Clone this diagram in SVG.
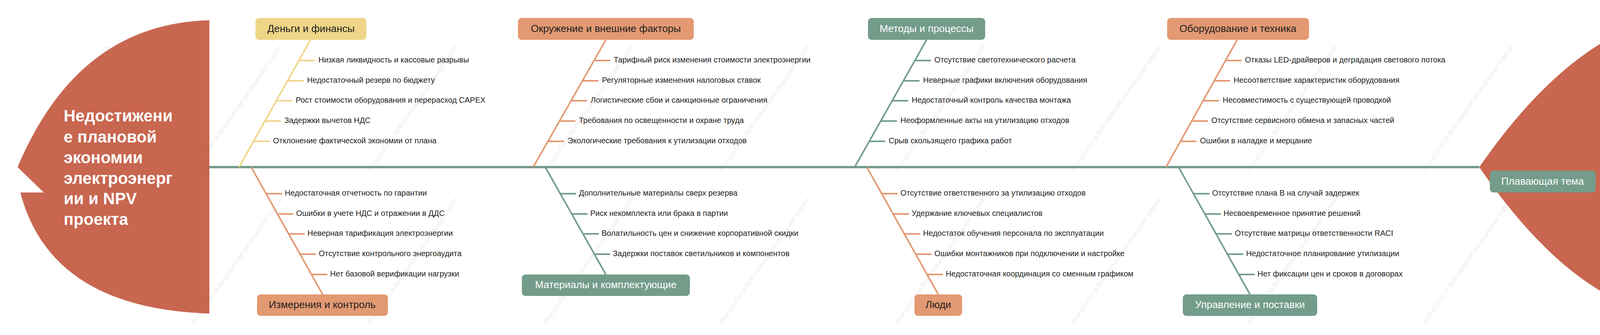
<svg xmlns="http://www.w3.org/2000/svg" width="4276" height="858" viewBox="0 0 4276 858">
<style>
.sub{font-family:"Liberation Sans",Arial,sans-serif;font-size:20px;fill:#222;dominant-baseline:middle}
.cat{font-family:"Liberation Sans",Arial,sans-serif;font-size:26px;text-anchor:middle;dominant-baseline:middle}
.dk{fill:#222}.wt{fill:#fff}
.y{stroke:#EFD587}.o{stroke:#E39972}.g{stroke:#739C8B}
.bone{stroke-width:4;fill:none}
.wm{font-family:"Liberation Sans",Arial,sans-serif;font-size:18px;font-style:italic;fill:#000;opacity:0.07}
</style>
<rect width="4276" height="858" fill="#fff"/>
<g id="watermarks">
<text class="wm" transform="translate(60,440) rotate(-55)">ProcessOn.io Бесплатная ментальная карта</text>
<text class="wm" transform="translate(500,440) rotate(-55)">ProcessOn.io Бесплатная ментальная карта</text>
<text class="wm" transform="translate(950,440) rotate(-55)">ProcessOn.io Бесплатная ментальная карта</text>
<text class="wm" transform="translate(1400,440) rotate(-55)">ProcessOn.io Бесплатная ментальная карта</text>
<text class="wm" transform="translate(1850,440) rotate(-55)">ProcessOn.io Бесплатная ментальная карта</text>
<text class="wm" transform="translate(2300,440) rotate(-55)">ProcessOn.io Бесплатная ментальная карта</text>
<text class="wm" transform="translate(2750,440) rotate(-55)">ProcessOn.io Бесплатная ментальная карта</text>
<text class="wm" transform="translate(3200,440) rotate(-55)">ProcessOn.io Бесплатная ментальная карта</text>
<text class="wm" transform="translate(3650,440) rotate(-55)">ProcessOn.io Бесплатная ментальная карта</text>
<text class="wm" transform="translate(500,830) rotate(-55)">ProcessOn.io Бесплатная ментальная карта</text>
<text class="wm" transform="translate(950,830) rotate(-55)">ProcessOn.io Бесплатная ментальная карта</text>
<text class="wm" transform="translate(1400,830) rotate(-55)">ProcessOn.io Бесплатная ментальная карта</text>
<text class="wm" transform="translate(1850,830) rotate(-55)">ProcessOn.io Бесплатная ментальная карта</text>
<text class="wm" transform="translate(2300,830) rotate(-55)">ProcessOn.io Бесплатная ментальная карта</text>
<text class="wm" transform="translate(2750,830) rotate(-55)">ProcessOn.io Бесплатная ментальная карта</text>
<text class="wm" transform="translate(3200,830) rotate(-55)">ProcessOn.io Бесплатная ментальная карта</text>
<text class="wm" transform="translate(3650,830) rotate(-55)">ProcessOn.io Бесплатная ментальная карта</text>
</g>
<g id="connectors">
<line x1="536" y1="428" x2="3787" y2="428" stroke="#739C8B" stroke-width="6"/>
<path class="bone y" d="M795,102L612,428M765,155h41M736,207h41M707,258h41M678,310h41M649,362h41"/>
<path class="bone o" d="M1551,102L1365,428M1521,155h41M1491,207h41M1462,258h41M1432,310h41M1403,362h41"/>
<path class="bone g" d="M2372,102L2188,428M2342,155h41M2313,207h41M2284,258h41M2255,310h41M2225,362h41"/>
<path class="bone o" d="M3167,102L2985,428M3137,155h41M3108,207h41M3080,258h41M3051,310h41M3022,362h41"/>
<path class="bone o" d="M643,428L826,754M681,496h41M710,548h41M739,599h41M768,651h41M797,703h41"/>
<path class="bone g" d="M1396,428L1551,703M1434,496h41M1463,548h41M1492,599h41M1521,651h41"/>
<path class="bone o" d="M2219,428L2402,754M2257,496h41M2286,548h41M2315,599h41M2344,651h41M2373,703h41"/>
<path class="bone g" d="M3017,428L3200,754M3055,496h41M3084,548h41M3113,599h41M3142,651h41M3171,703h41"/>
</g>
<g id="head">
<path d="M536,52Q200,60 45,428L112,493L52,493Q130,790 536,803Z" fill="#C8664F"/>
<text font-family="'Liberation Sans',Arial,sans-serif" font-size="42" font-weight="bold" fill="#fff" dominant-baseline="middle">
<tspan x="163" y="300">Недостижени</tspan><tspan x="163" y="354">е плановой</tspan><tspan x="163" y="407">экономии</tspan><tspan x="163" y="460">электроэнерг</tspan><tspan x="163" y="512">ии и NPV</tspan><tspan x="163" y="565">проекта</tspan></text>
</g>
<g id="tail"><path d="M3787,428Q4000,120 4229,52L4118,428L4229,803Q4000,740 3787,428Z" fill="#C8664F"/></g>
<g id="cat-money"><rect x="654" y="46" width="284" height="56" rx="9" fill="#EFD587"/><text class="cat dk" x="796" y="75">Деньги и финансы</text>
<text class="sub" x="815" y="155">Низкая ликвидность и кассовые разрывы</text><text class="sub" x="786" y="207">Недостаточный резерв по бюджету</text><text class="sub" x="757" y="258">Рост стоимости оборудования и перерасход CAPEX</text><text class="sub" x="728" y="310">Задержки вычетов НДС</text><text class="sub" x="699" y="362">Отклонение фактической экономии от плана</text></g>
<g id="cat-env"><rect x="1326" y="46" width="450" height="56" rx="9" fill="#E39972"/><text class="cat dk" x="1551" y="75">Окружение и внешние факторы</text>
<text class="sub" x="1571" y="155">Тарифный риск изменения стоимости электроэнергии</text><text class="sub" x="1541" y="207">Регуляторные изменения налоговых ставок</text><text class="sub" x="1512" y="258">Логистические сбои и санкционные ограничения</text><text class="sub" x="1482" y="310">Требования по освещенности и охране труда</text><text class="sub" x="1453" y="362">Экологические требования к утилизации отходов</text></g>
<g id="cat-methods"><rect x="2222" y="46" width="300" height="56" rx="9" fill="#739C8B"/><text class="cat wt" x="2372" y="75">Методы и процессы</text>
<text class="sub" x="2392" y="155">Отсутствие светотехнического расчета</text><text class="sub" x="2363" y="207">Неверные графики включения оборудования</text><text class="sub" x="2334" y="258">Недостаточный контроль качества монтажа</text><text class="sub" x="2305" y="310">Неоформленные акты на утилизацию отходов</text><text class="sub" x="2275" y="362">Срыв скользящего графика работ</text></g>
<g id="cat-equip"><rect x="2988" y="46" width="363" height="56" rx="9" fill="#E39972"/><text class="cat dk" x="3169" y="75">Оборудование и техника</text>
<text class="sub" x="3187" y="155">Отказы LED-драйверов и деградация светового потока</text><text class="sub" x="3158" y="207">Несоответствие характеристик оборудования</text><text class="sub" x="3130" y="258">Несовместимость с существующей проводкой</text><text class="sub" x="3101" y="310">Отсутствие сервисного обмена и запасных частей</text><text class="sub" x="3072" y="362">Ошибки в наладке и мерцание</text></g>
<g id="cat-measure"><rect x="658" y="754" width="335" height="55" rx="9" fill="#E39972"/><text class="cat dk" x="825" y="782">Измерения и контроль</text>
<text class="sub" x="729" y="496">Недостаточная отчетность по гарантии</text><text class="sub" x="758" y="548">Ошибки в учете НДС и отражении в ДДС</text><text class="sub" x="787" y="599">Неверная тарификация электроэнергии</text><text class="sub" x="816" y="651">Отсутствие контрольного энергоаудита</text><text class="sub" x="845" y="703">Нет базовой верификации нагрузки</text></g>
<g id="cat-materials"><rect x="1336" y="703" width="430" height="55" rx="9" fill="#739C8B"/><text class="cat wt" x="1551" y="731">Материалы и комплектующие</text>
<text class="sub" x="1482" y="496">Дополнительные материалы сверх резерва</text><text class="sub" x="1511" y="548">Риск некомплекта или брака в партии</text><text class="sub" x="1540" y="599">Волатильность цен и снижение корпоративной скидки</text><text class="sub" x="1569" y="651">Задержки поставок светильников и компонентов</text></g>
<g id="cat-people"><rect x="2341" y="754" width="122" height="55" rx="9" fill="#E39972"/><text class="cat dk" x="2402" y="782">Люди</text>
<text class="sub" x="2305" y="496">Отсутствие ответственного за утилизацию отходов</text><text class="sub" x="2334" y="548">Удержание ключевых специалистов</text><text class="sub" x="2363" y="599">Недостаток обучения персонала по эксплуатации</text><text class="sub" x="2392" y="651">Ошибки монтажников при подключении и настройке</text><text class="sub" x="2421" y="703">Недостаточная координация со сменным графиком</text></g>
<g id="cat-mgmt"><rect x="3028" y="754" width="344" height="55" rx="9" fill="#739C8B"/><text class="cat wt" x="3200" y="782">Управление и поставки</text>
<text class="sub" x="3103" y="496">Отсутствие плана B на случай задержек</text><text class="sub" x="3132" y="548">Несвоевременное принятие решений</text><text class="sub" x="3161" y="599">Отсутствие матрицы ответственности RACI</text><text class="sub" x="3190" y="651">Недостаточное планирование утилизации</text><text class="sub" x="3219" y="703">Нет фиксации цен и сроков в договорах</text></g>
<g id="floating"><rect x="3814" y="437" width="271" height="56" rx="9" fill="#739C8B"/><text class="cat wt" x="3949" y="466">Плавающая тема</text></g>
</svg>
